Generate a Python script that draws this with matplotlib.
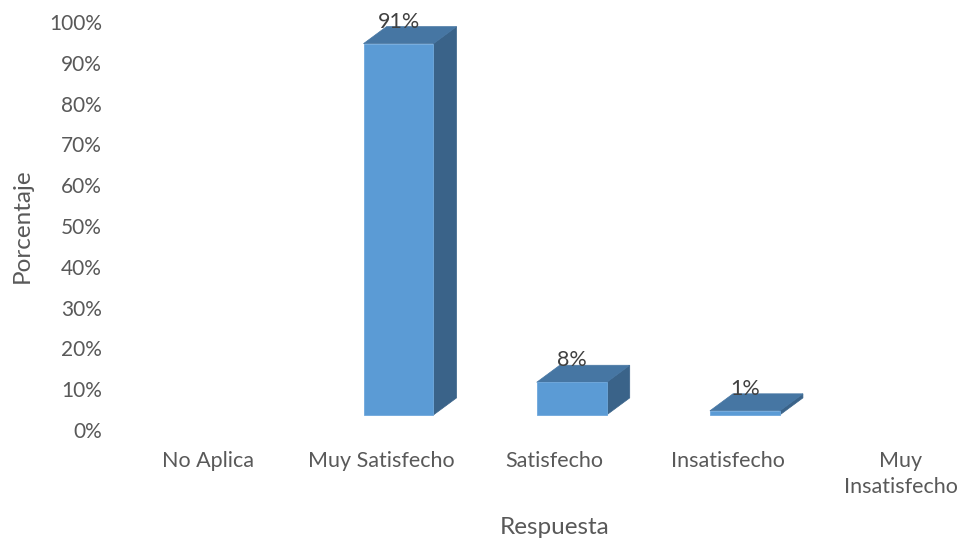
import matplotlib.pyplot as plt
from matplotlib.patches import Polygon

categories = ['No Aplica', 'Muy Satisfecho', 'Satisfecho', 'Insatisfecho', 'Muy\nInsatisfecho']
values = [0, 91, 8, 1, 0]
y_ticks = list(range(0, 101, 10))
y_tick_labels = [f'{t}%' for t in y_ticks]

plt.rcParams['font.family'] = ['Lato', 'DejaVu Sans']
text_color = '#595959'

fig = plt.figure(figsize=(9.64, 5.44), dpi=100)
# axes placed so categories line up with the reference
ax = fig.add_axes([120 / 964, (544 - 430) / 544, 844 / 964, 408 / 544])
ax.set_xlim(-0.508, 4.365)
ax.set_ylim(0, 100)

# 3D look: front face, top face and right side face
bar_w = 0.404
shift = 0.10     # front face offset from category centre
base = 3.7       # front floor above the back wall zero
dx, dy = 0.133, 4.17

for i, v in enumerate(values):
    if v <= 0:
        continue
    x0 = i + shift - bar_w / 2
    x1 = x0 + bar_w
    top = base + v
    front = Polygon([(x0, base), (x1, base), (x1, top), (x0, top)],
                    closed=True, facecolor='#5B9BD5', edgecolor='#6FA8DC', lw=0.6)
    lid = Polygon([(x0, top), (x1, top), (x1 + dx, top + dy), (x0 + dx, top + dy)],
                  closed=True, facecolor='#4676A3', edgecolor='#4676A3', lw=0.5)
    side = Polygon([(x1, base), (x1 + dx, base + dy), (x1 + dx, top + dy), (x1, top)],
                   closed=True, facecolor='#3A6389', edgecolor='#3A6389', lw=0.5)
    for p in (side, lid, front):
        p.set_clip_on(False)
        ax.add_patch(p)
    ax.text(i + shift, top + dy - 1.2, f'{v}%', ha='center', va='bottom',
            fontsize=15.5, color='#404040', clip_on=False)

ax.set_yticks(y_ticks)
ax.set_yticklabels(y_tick_labels)
ax.set_xticks(range(len(categories)))
ax.set_xticklabels(categories, linespacing=1.4)
ax.tick_params(axis='y', length=0, pad=13, labelsize=15, labelcolor=text_color)
ax.tick_params(axis='x', length=0, pad=15, labelsize=15.5, labelcolor=text_color)
for s in ax.spines.values():
    s.set_visible(False)

fig.text(22 / 964, 1 - 226 / 544, 'Porcentaje', rotation=90, ha='center', va='center',
         fontsize=17.5, color=text_color)
fig.text(555 / 964, 1 - 527 / 544, 'Respuesta', ha='center', va='center',
         fontsize=17.5, color=text_color)

fig.savefig('out.png', dpi=100)
